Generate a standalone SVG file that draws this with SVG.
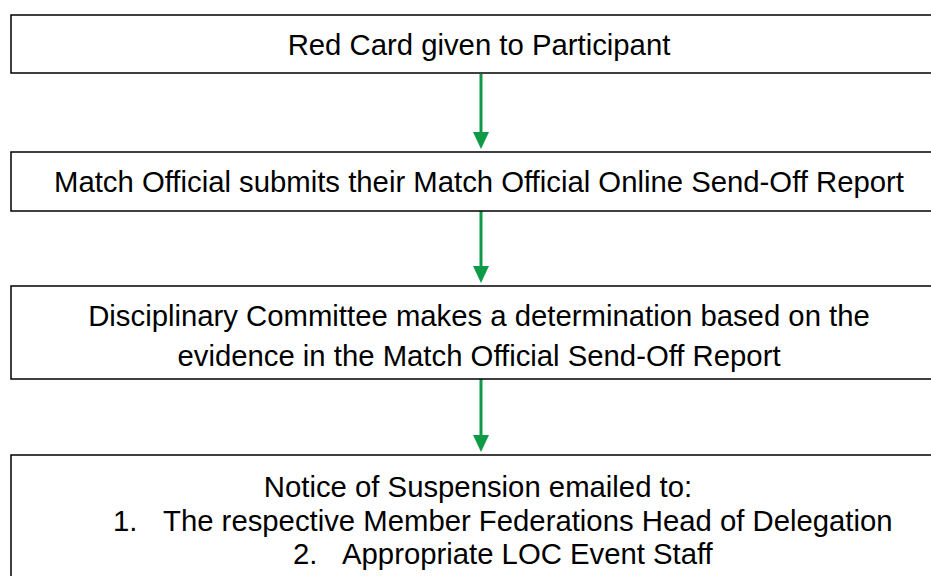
<svg xmlns="http://www.w3.org/2000/svg" width="931" height="576" viewBox="0 0 931 576">
<style>
.box{fill:#fff;stroke:#000;stroke-width:1.5}
.t{font-family:"Liberation Sans",Arial,sans-serif;font-size:29.3px;fill:#000}
.c{text-anchor:middle}
.arr{stroke:#0E9A47;stroke-width:3;fill:none;marker-end:url(#ah)}
</style>
<defs>
<marker id="ah" viewBox="0 0 17 16" refX="8" refY="8" markerWidth="17" markerHeight="16" markerUnits="userSpaceOnUse" orient="auto">
<path d="M0,0 L17,8 L0,16 Z" fill="#0E9A47"/>
</marker>
</defs>
<g id="connectors">
<path class="arr" d="M481,74 V140"/>
<path class="arr" d="M481,211 V274"/>
<path class="arr" d="M481,379 V443"/>
</g>
<g id="n1">
<rect class="box" x="11" y="15" width="940" height="58"/>
<text class="t c" x="479" y="55">Red Card given to Participant</text>
</g>
<g id="n2">
<rect class="box" x="11" y="152" width="940" height="59"/>
<text class="t c" x="479" y="192">Match Official submits their Match Official Online Send-Off Report</text>
</g>
<g id="n3">
<rect class="box" x="11" y="286" width="940" height="93"/>
<text class="t c" x="479" y="326">Disciplinary Committee makes a determination based on the</text>
<text class="t c" x="479" y="366">evidence in the Match Official Send-Off Report</text>
</g>
<g id="n4">
<rect class="box" x="11" y="455" width="940" height="140"/>
<text class="t c" x="478" y="497">Notice of Suspension emailed to:</text>
<text class="t" x="113" y="531">1.</text>
<text class="t" x="163" y="531">The respective Member Federations Head of Delegation</text>
<text class="t" x="293" y="564">2.</text>
<text class="t" x="342" y="564">Appropriate LOC Event Staff</text>
</g>
</svg>
